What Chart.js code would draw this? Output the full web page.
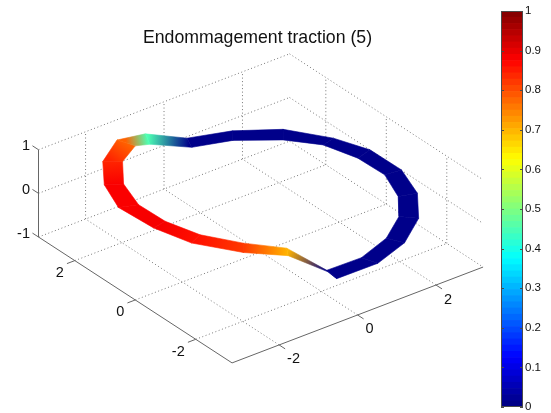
<!DOCTYPE html>
<html>
<head>
<meta charset="utf-8">
<title>Endommagement traction (5)</title>
<script src="https://cdn.jsdelivr.net/npm/chart.js@4"></script>
<style>
html, body { margin: 0; padding: 0; background: #fff; }
canvas { position: absolute; top: 0; }
#plot { left: 0; }
#bar { left: 490px; }
</style>
</head>
<body>
<canvas id="plot" width="515" height="413"></canvas>
<canvas id="bar" width="61" height="413"></canvas>
<script>
// Ring cross sections (outer edge, inner edge, height, damage)
const outerX = [-0.515, 0.525, 1.46, 2.29, 2.89, 3.21, 3.20, 2.90, 2.31, 1.46, 0.55, -0.50, -1.43, -2.31, -2.88, -3.19, -3.11, -2.85, -2.21, -1.46, -0.49];
const outerY = [-3.18, -3.19, -2.86, -2.25, -1.43, -0.49, 0.54, 1.36, 2.26, 2.83, 3.15, 3.17, 2.90, 2.23, 1.44, 0.57, -0.49, -1.41, -2.29, -2.80, -2.84];
const innerX = [-0.465, 0.40, 1.28, 2.02, 2.50, 2.82, 2.80, 2.57, 2.05, 1.23, 0.40, -0.68, -1.28, -1.99, -2.55, -2.80, -2.76, -2.51, -1.98, -1.30, -0.47];
const innerY = [-2.79, -2.81, -2.49, -1.95, -1.30, -0.44, 0.42, 1.27, 1.92, 2.52, 2.80, 2.78, 2.49, 1.99, 1.23, 0.41, -0.42, -1.25, -1.99, -2.54, -2.78];
const ringZ = [0, 0, 0, 0, 0, 0, 0, 0, 0, 0, 0, 0.45, 0.75, 0.86, 0.88, 0.86, 0.84, 0.82, 0.78, 0.68, 0];
const damage = [0.01, 0.01, 0.01, 0.01, 0.01, 0.01, 0.01, 0.01, 0.01, 0.01, 0.01, 0.45, 0.78, 0.84, 0.88, 0.88, 0.885, 0.86, 0.82, 0.70, 0.01];

// Axes
const xTicks = [-2, 0, 2];
const yTicks = [-2, 0, 2];
const zTicks = [-1, 0, 1];
const barTicks = [0, 0.1, 0.2, 0.3, 0.4, 0.5, 0.6, 0.7, 0.8, 0.9, 1];
const lim = 3.2;
const tickLen = 0.2;

// Fixed 3D view, gives positions on the chart's two linear scales
function project(x, y, z) {
    return {
        x: 260.8 + 39.3 * x - 30.3 * y,
        y: 208.6 - 15 * x - 19.7 * y - 43.7 * z
    };
}

// jet colormap
function jet(v) {
    const c = t => Math.round(255 * Math.max(0, Math.min(1, 1.5 - Math.abs(4 * v - t))));
    return `rgb(${c(3)},${c(2)},${c(1)})`;
}

function segment(a, b, color, dash) {
    return {
        data: [project(a[0], a[1], a[2]), project(b[0], b[1], b[2])],
        showLine: true,
        borderColor: color,
        borderWidth: 1,
        borderDash: dash,
        pointRadius: 0,
        clip: false
    };
}

// Gradient running from one section to the next
function sectionGradient(chart, i, j) {
    if (!chart.chartArea) return jet(damage[i]); // not laid out yet
    const sx = chart.scales.x, sy = chart.scales.y;
    const mid = k => project((outerX[k] + innerX[k]) / 2, (outerY[k] + innerY[k]) / 2, ringZ[k]);
    const a = mid(i), b = mid(j);
    const x0 = sx.getPixelForValue(a.x), y0 = sy.getPixelForValue(a.y);
    const x1 = sx.getPixelForValue(b.x), y1 = sy.getPixelForValue(b.y);
    if (![x0, y0, x1, y1].every(Number.isFinite)) return jet(damage[i]);
    const g = chart.ctx.createLinearGradient(x0, y0, x1, y1);
    g.addColorStop(0, jet(damage[i]));
    g.addColorStop(1, jet(damage[j]));
    return g;
}

const datasets = [];

// ring, one filled quad per pair of sections
outerX.forEach((_, i) => {
    const j = (i + 1) % outerX.length;
    const paint = ctx => sectionGradient(ctx.chart, i, j);
    datasets.push({
        data: [
            project(outerX[i], outerY[i], ringZ[i]),
            project(outerX[j], outerY[j], ringZ[j]),
            project(innerX[j], innerY[j], ringZ[j]),
            project(innerX[i], innerY[i], ringZ[i]),
            project(outerX[i], outerY[i], ringZ[i])
        ],
        showLine: true,
        fill: 'shape',
        backgroundColor: paint,
        borderColor: paint,
        borderWidth: 0.6,
        pointRadius: 0,
        tension: 0,
        clip: false
    });
});

// solid axes and their tick marks
const axisColor = '#666666';
datasets.push(segment([-lim, lim, -1], [-lim, lim, 1], axisColor));
datasets.push(segment([-lim, lim, -1], [-lim, -lim, -1], axisColor));
datasets.push(segment([-lim, -lim, -1], [lim, -lim, -1], axisColor));
zTicks.forEach(z => datasets.push(segment([-lim, lim, z], [-lim, lim + tickLen, z], axisColor)));
yTicks.forEach(y => datasets.push(segment([-lim, y, -1], [-lim - tickLen, y, -1], axisColor)));
xTicks.forEach(x => datasets.push(segment([x, -lim, -1], [x, -lim - tickLen, -1], axisColor)));

// dotted grid on the floor and the two back walls
const gridColor = '#777777';
const dots = [1, 2.5];
xTicks.forEach(x => {
    datasets.push(segment([x, -lim, -1], [x, lim, -1], gridColor, dots));
    datasets.push(segment([x, lim, -1], [x, lim, 1], gridColor, dots));
});
yTicks.forEach(y => {
    datasets.push(segment([-lim, y, -1], [lim, y, -1], gridColor, dots));
    datasets.push(segment([lim, y, -1], [lim, y, 1], gridColor, dots));
});
zTicks.forEach(z => {
    datasets.push(segment([-lim, lim, z], [lim, lim, z], gridColor, dots));
    datasets.push(segment([lim, lim, z], [lim, -lim, z], gridColor, dots));
});

// Tick labels sit next to the projected tick positions
const tickLabelPlugin = {
    id: 'tickLabels',
    afterDraw(chart) {
        const { ctx, scales } = chart;
        const put = (text, p, dx, dy, align) => {
            ctx.textAlign = align;
            ctx.fillText(text, scales.x.getPixelForValue(p.x) + dx, scales.y.getPixelForValue(p.y) + dy);
        };
        ctx.save();
        ctx.fillStyle = '#111';
        ctx.font = '14.5px "Liberation Sans", Arial, sans-serif';
        ctx.textBaseline = 'middle';
        zTicks.forEach(z => put(String(z), project(-lim, lim, z), -8.5, -3.5, 'right'));
        yTicks.forEach(y => put(String(y), project(-lim, y, -1), -11, 12.5, 'right'));
        xTicks.forEach(x => put(String(x), project(x, -lim, -1), 8, 14.5, 'left'));
        ctx.restore();
    }
};

const plot = new Chart(document.getElementById('plot'), {
    type: 'scatter',
    data: { datasets: datasets },
    options: {
        responsive: false,
        animation: false,
        layout: { padding: 0 },
        scales: {
            x: { type: 'linear', display: false, min: 0, max: 515 },
            y: { type: 'linear', display: false, reverse: true, min: 50, max: 413 }
        },
        plugins: {
            legend: { display: false },
            tooltip: { enabled: false },
            title: {
                display: true,
                text: 'Endommagement traction (5)',
                color: '#111',
                font: { family: '"Liberation Sans", Arial, sans-serif', size: 17.7, weight: 'normal', lineHeight: '20px' },
                padding: { top: 28, bottom: 2 }
            }
        }
    },
    plugins: [tickLabelPlugin]
});
plot.update(); // second pass so the gradients see the laid out scales

// Colorbar: 64 stacked levels of the same colormap
const levels = 64;
const levelDatasets = [];
for (let i = 0; i < levels; i++) {
    levelDatasets.push({
        data: [1 / levels],
        backgroundColor: jet((i + 0.5) / levels),
        borderWidth: 0,
        barPercentage: 1,
        categoryPercentage: 1
    });
}

const barFramePlugin = {
    id: 'barFrame',
    afterDraw(chart) {
        const { ctx, chartArea: a, scales: { y } } = chart;
        ctx.save();
        ctx.strokeStyle = '#4a4a4a';
        ctx.lineWidth = 1;
        ctx.strokeRect(a.left + 0.5, a.top + 0.5, a.right - a.left - 1, a.bottom - a.top - 1);
        y.ticks.forEach(t => {
            const py = Math.round(y.getPixelForValue(t.value)) + 0.5;
            ctx.beginPath();
            ctx.moveTo(a.left, py);
            ctx.lineTo(a.left + 3, py);
            ctx.moveTo(a.right - 3, py);
            ctx.lineTo(a.right, py);
            ctx.stroke();
        });
        ctx.restore();
    }
};

new Chart(document.getElementById('bar'), {
    type: 'bar',
    data: { labels: [''], datasets: levelDatasets },
    options: {
        responsive: false,
        animation: false,
        layout: { padding: { left: 11, top: 11, bottom: 6 } },
        scales: {
            x: { stacked: true, display: false },
            y: {
                stacked: true,
                position: 'right',
                min: 0,
                max: 1,
                afterBuildTicks: scale => { scale.ticks = barTicks.map(value => ({ value })); },
                afterFit: scale => {
                    scale.width = 28;
                    scale.paddingTop = 0;
                    scale.paddingBottom = 0;
                },
                grid: { display: false, drawTicks: false },
                border: { display: false },
                ticks: {
                    autoSkip: false,
                    padding: 2,
                    color: '#111',
                    font: { family: '"Liberation Sans", Arial, sans-serif', size: 11.5 },
                    callback: value => String(value)
                }
            }
        },
        plugins: { legend: { display: false }, tooltip: { enabled: false } }
    },
    plugins: [barFramePlugin]
});
</script>
</body>
</html>
